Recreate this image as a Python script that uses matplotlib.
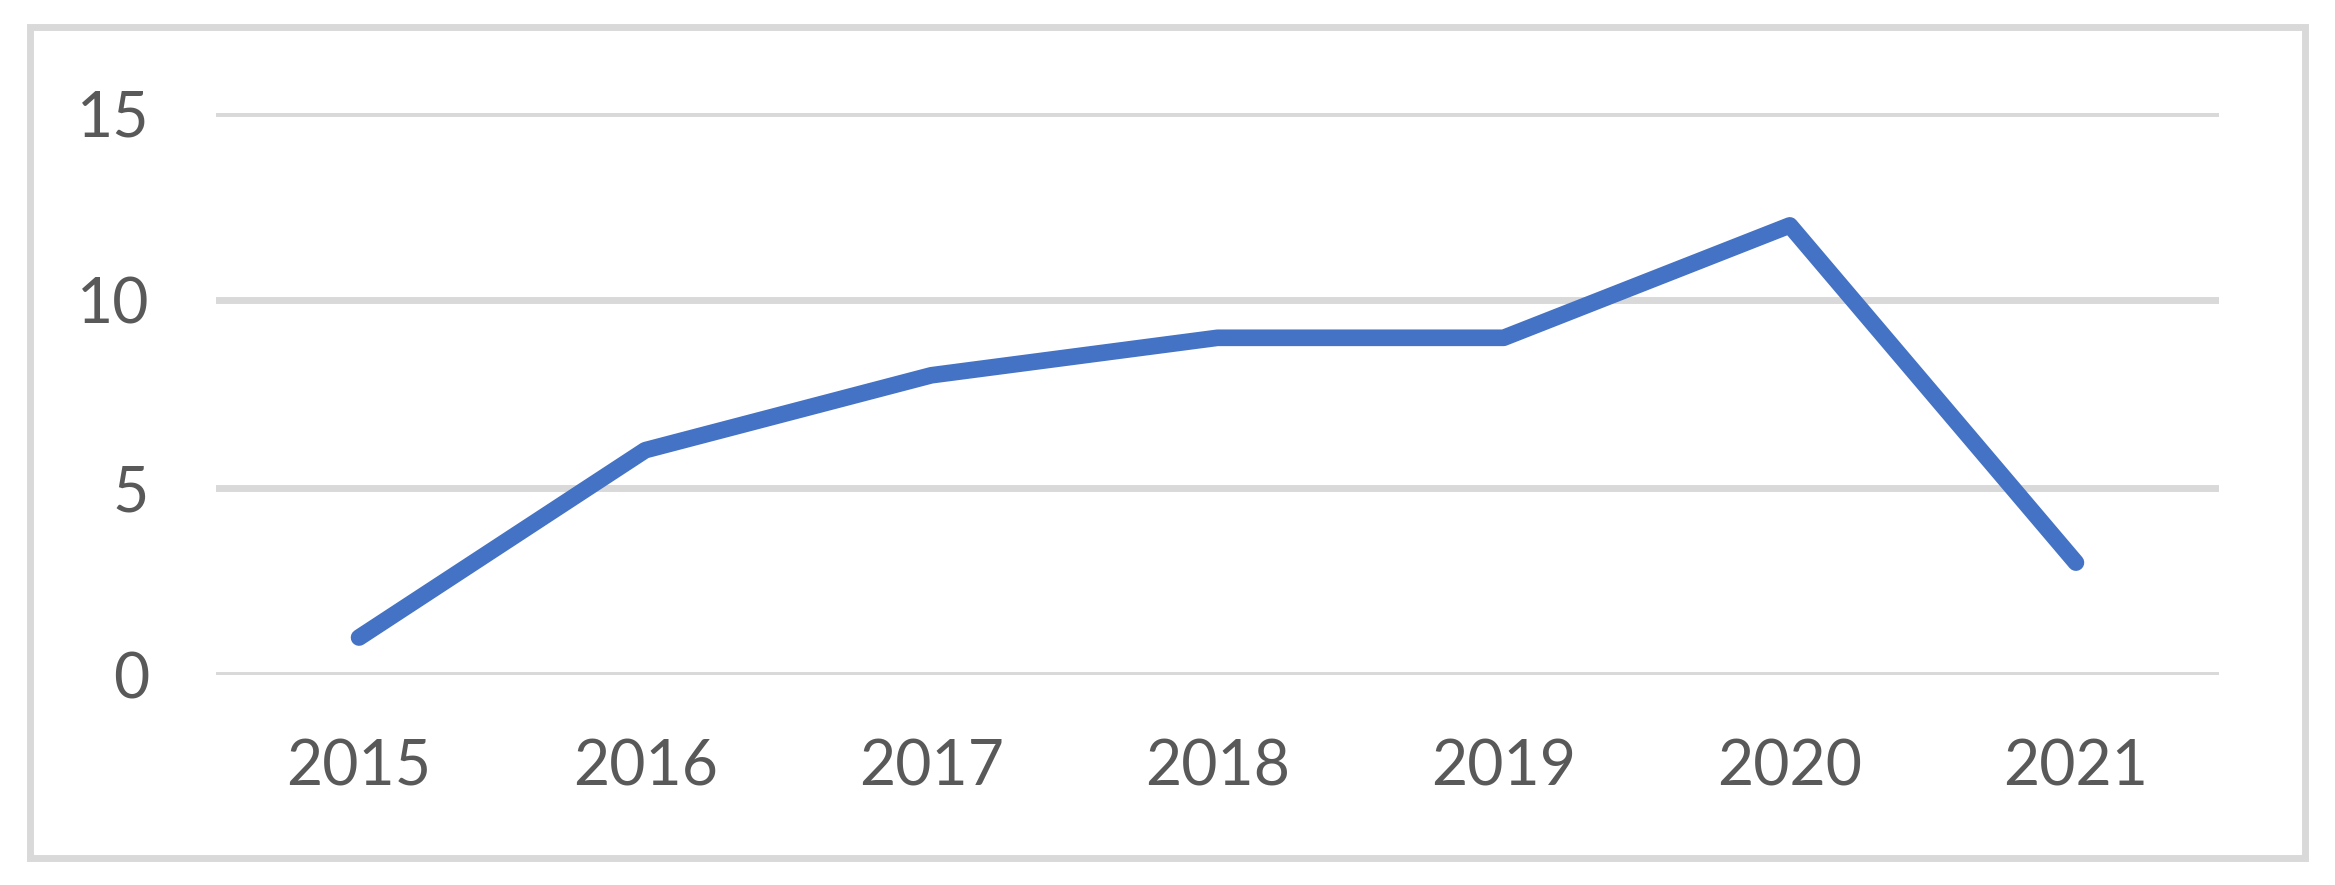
import matplotlib
matplotlib.use("Agg")
import matplotlib.pyplot as plt
from matplotlib.patches import Rectangle

years = ["2015", "2016", "2017", "2018", "2019", "2020", "2021"]
values = [1, 6, 8, 9, 9, 12, 3]
y_ticks = [0, 5, 10, 15]

plt.rcParams['font.family'] = ['Lato', 'DejaVu Sans']

W, H = 2335, 885
fig = plt.figure(figsize=(W / 100, H / 100), dpi=100)
fig.patch.set_facecolor("white")

left, right = 216 / W, 2219 / W
bottom, top = (H - 675) / H, (H - 113) / H
ax = fig.add_axes([left, bottom, right - left, top - bottom])

x = list(range(len(years)))
ax.plot(x, values, color="#4472C4", linewidth=12,
        solid_capstyle="round", solid_joinstyle="round", zorder=3)

ax.set_xlim(-0.5, len(years) - 0.5)
ax.set_ylim(0, 15)
ax.set_yticks(y_ticks)
ax.set_yticklabels([str(v) for v in y_ticks])
ax.set_xticks(x)
ax.set_xticklabels(years)

for v in y_ticks:
    ax.axhline(v, color="#D9D9D9", linewidth=5, zorder=1)

for s in ax.spines.values():
    s.set_visible(False)
ax.tick_params(axis="both", length=0, labelsize=45, colors="#595959")
ax.tick_params(axis="y", pad=48)
ax.tick_params(axis="x", pad=46)

border = Rectangle((30 / W, (H - 858) / H), (2305 - 30) / W, (858 - 27) / H,
                   transform=fig.transFigure, fill=False,
                   edgecolor="#D9D9D9", linewidth=5, zorder=0)
fig.patches.append(border)

fig.savefig("out.png", dpi=100, facecolor="white")
